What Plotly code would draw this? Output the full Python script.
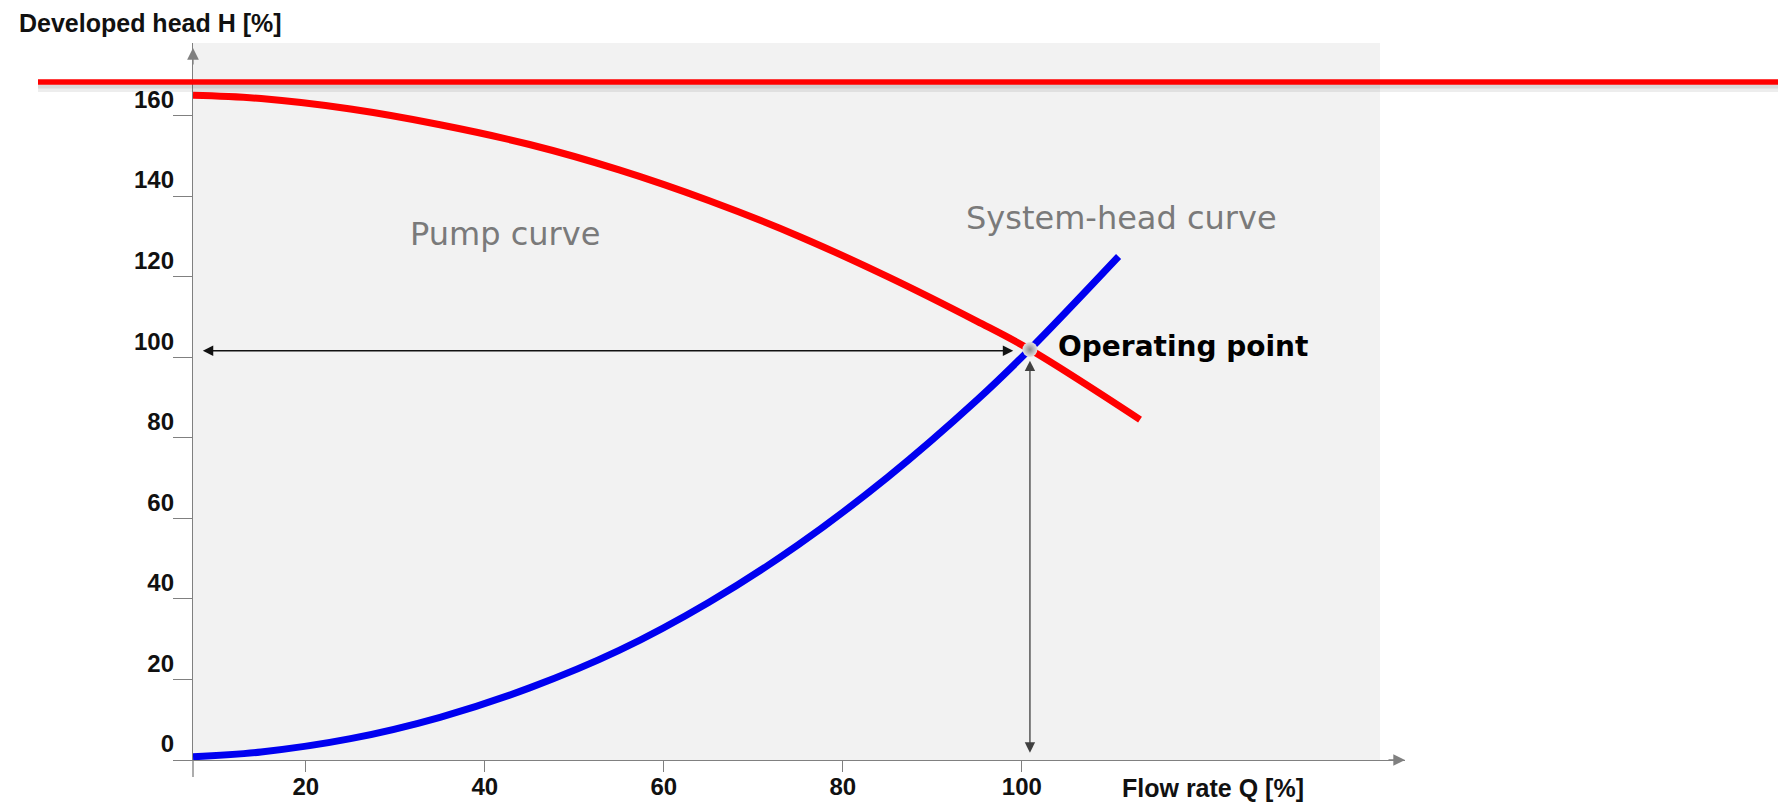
import plotly.graph_objects as go

# ---- data ----
pump_q = [7.4, 15, 25, 35, 45, 55, 65, 75, 85, 95, 100.9, 113.2]
pump_h = [165, 164.2, 161.6, 157.7, 152.8, 146.5, 138.9, 130.1, 120.0, 108.9, 101.9, 84.5]

sys_q = [7.4, 15, 25, 35, 45, 55, 65, 75, 85, 95, 100.9, 110.8]
sys_h = [0.8, 2.0, 5.3, 10.6, 17.9, 27.2, 39.1, 53.4, 70.2, 89.4, 102, 125]

op_q = [100.9]
op_h = [101.9]

x_ticks = [20, 40, 60, 80, 100]
y_ticks = [0, 20, 40, 60, 80, 100, 120, 140, 160]

x_title = "Flow rate Q [%]"
y_title = "Developed head H [%]"

W, H = 1778, 802
L, R, T, B = 193, 373, 43, 42
XR = [7.4, 142.8]
YR = [0, 178]
pw = W - L - R
ph = H - T - B

fig = go.Figure()

# plot background panel
fig.add_shape(type="rect", xref="x", yref="y", x0=7.4, x1=140.0, y0=0, y1=178,
              fillcolor="#f2f2f2", line=dict(width=0), layer="below")

fig.add_trace(go.Scatter(x=sys_q, y=sys_h, mode="lines",
                         line=dict(color="#0000f0", width=7, shape="spline", smoothing=1.0),
                         hoverinfo="skip", showlegend=False))
fig.add_trace(go.Scatter(x=pump_q, y=pump_h, mode="lines",
                         line=dict(color="#ff0000", width=7, shape="spline", smoothing=1.0),
                         hoverinfo="skip", showlegend=False))

# arrows to the axes
fig.add_annotation(x=8.5, y=101.6, ax=99.2, ay=101.6, xref="x", yref="y", axref="x", ayref="y",
                   text="", showarrow=True, arrowhead=2, arrowside="end+start",
                   arrowsize=1.6, arrowwidth=1.3, arrowcolor="#111111")
fig.add_annotation(x=100.9, y=1.8, ax=100.9, ay=99.5, xref="x", yref="y", axref="x", ayref="y",
                   text="", showarrow=True, arrowhead=2, arrowside="end+start",
                   arrowsize=1.6, arrowwidth=1.3, arrowcolor="#404040")

# operating point marker
fig.add_trace(go.Scatter(x=op_q, y=op_h, mode="markers",
                         marker=dict(size=15, color="#e2e2e2",
                                     gradient=dict(type="radial", color="#8c8c8c"),
                                     line=dict(width=0)),
                         hoverinfo="skip", showlegend=False))

# axis arrowheads
fig.add_annotation(x=0, y=(760 - 48) / ph, xref="paper", yref="paper",
                   ax=0, ay=18, text="", showarrow=True, arrowhead=2, arrowsize=1.8,
                   arrowwidth=1.3, arrowcolor="#808080")
fig.add_annotation(x=1.0, y=0, xref="paper", yref="paper",
                   ax=-18, ay=0, text="", showarrow=True, arrowhead=2, arrowsize=1.8,
                   arrowwidth=1.3, arrowcolor="#808080")

# y-axis line stub below origin
fig.add_shape(type="line", xref="paper", yref="paper", x0=0, x1=0, y0=0, y1=-17 / ph,
              line=dict(color="#808080", width=1.3))

# decorative red rule with soft shadow
fig.add_shape(type="line", xref="paper", yref="paper",
              x0=(38 - L) / pw, x1=(W - L) / pw, y0=(760 - 88) / ph, y1=(760 - 88) / ph,
              line=dict(color="rgba(0,0,0,0.07)", width=8))
fig.add_shape(type="line", xref="paper", yref="paper",
              x0=(38 - L) / pw, x1=(W - L) / pw, y0=(760 - 86.5) / ph, y1=(760 - 86.5) / ph,
              line=dict(color="rgba(0,0,0,0.08)", width=4))
fig.add_shape(type="line", xref="paper", yref="paper",
              x0=(38 - L) / pw, x1=(W - L) / pw, y0=(760 - 82) / ph, y1=(760 - 82) / ph,
              line=dict(color="#ff0000", width=5.5))

# text labels
fig.add_annotation(x=42.3, y=130.5, xref="x", yref="y", text="Pump curve", showarrow=False,
                   font=dict(family="DejaVu Sans", size=32, color="#7a7a7a"))
fig.add_annotation(x=111.1, y=134.5, xref="x", yref="y", text="System-head curve", showarrow=False,
                   font=dict(family="DejaVu Sans", size=32, color="#7a7a7a"))
fig.add_annotation(x=103.8, y=102.6, xref="x", yref="y", text="Operating point", showarrow=False,
                   xanchor="left", font=dict(family="DejaVu Sans", size=28, color="#000000", weight="bold"))

# axis titles
fig.add_annotation(x=(17 - L) / pw, y=(760 - 23) / ph, xref="paper", yref="paper",
                   text=y_title, showarrow=False, xanchor="left", yanchor="middle",
                   font=dict(family="Liberation Sans, Arial", size=25, color="#111111", weight="bold"))
fig.add_annotation(x=(1120 - L) / pw, y=(760 - 788) / ph, xref="paper", yref="paper",
                   text=x_title, showarrow=False, xanchor="left", yanchor="middle",
                   font=dict(family="Liberation Sans, Arial", size=25, color="#111111", weight="bold"))

tickfont = dict(family="Liberation Sans, Arial", size=24, color="#111111", weight="bold")

fig.update_xaxes(range=XR, showgrid=False, zeroline=False, showline=True, linecolor="#808080",
                 linewidth=1.3, ticks="outside", ticklen=11, tickwidth=1.3, tickcolor="#808080",
                 tickvals=x_ticks, ticktext=[str(v) for v in x_ticks], tickfont=tickfont,
                 automargin=False, ticklabelstandoff=-6)
fig.update_yaxes(range=YR, showgrid=False, zeroline=False, showline=True, linecolor="#808080",
                 linewidth=1.3, ticks="outside", ticklen=19, tickwidth=1.3, tickcolor="#808080",
                 tickvals=y_ticks, ticktext=[str(v) for v in y_ticks], tickfont=tickfont,
                 ticklabelshift=-16, ticklabelstandoff=-6, automargin=False)

fig.update_layout(width=W, height=H, margin=dict(l=L, r=R, t=T, b=B, pad=0, autoexpand=False),
                  paper_bgcolor="white", plot_bgcolor="white", showlegend=False)

fig.write_html("out.html", config={"displayModeBar": False},
               post_script="document.body.style.margin='0px';")
